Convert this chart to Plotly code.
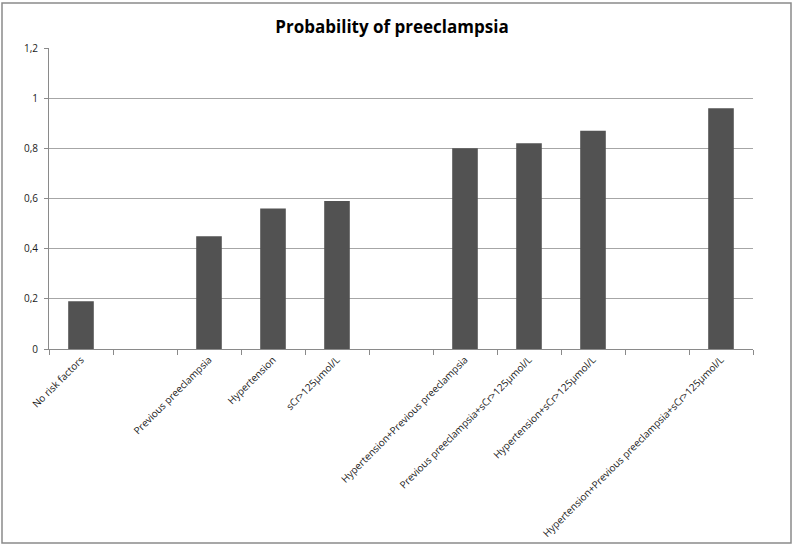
import plotly.graph_objects as go

categories = ["No risk factors", " ", "Previous preeclampsia", "Hypertension", "sCr>125µmol/L", "  ",
              "Hypertension+Previous preeclampsia", "Previous preeclampsia+sCr>125µmol/L",
              "Hypertension+sCr>125µmol/L", "   ", "Hypertension+Previous preeclampsia+sCr>125µmol/L"]
values = [0.19, None, 0.45, 0.56, 0.59, None, 0.80, 0.82, 0.87, None, 0.96]
y_ticks = [0, 0.2, 0.4, 0.6, 0.8, 1, 1.2]
y_ticklabels = ["0", "0,2", "0,4", "0,6", "0,8", "1", "1,2"]

W, H = 794, 546
ml, mr, mt, mb = 49, 41, 48, 197
pw, ph = W - ml - mr, H - mt - mb

def px_x(p):
    return (p - ml) / pw

def px_y(p):
    return (H - mb - p) / ph

fig = go.Figure(go.Bar(
    x=categories, y=values,
    marker=dict(color="#525252", line=dict(width=0)),
))

fig.update_layout(
    width=W, height=H,
    margin=dict(l=ml, r=mr, t=mt, b=mb, autoexpand=False),
    plot_bgcolor="white", paper_bgcolor="white",
    bargap=0.6,
    showlegend=False,
    title=dict(text="<b>Probability of preeclampsia</b>", x=392 / W, xref="container", xanchor="center",
               y=1 - 27 / H, yanchor="middle",
               font=dict(family="Open Sans", size=17, color="black")),
    font=dict(family="Open Sans", size=10, color="#1a1a1a"),
    shapes=[dict(type="rect", xref="paper", yref="paper",
                 x0=px_x(2), x1=px_x(791), y0=px_y(543), y1=px_y(3),
                 line=dict(color="#8a8a8a", width=1.5), layer="below")],
)
fig.update_xaxes(
    type="category", tickangle=-45, tickson="boundaries", automargin=False,
    showline=True, linecolor="#8a8a8a", linewidth=1,
    ticks="outside", ticklen=5, tickcolor="#8a8a8a",
    tickfont=dict(family="Open Sans", size=10, color="#1a1a1a"),
    showgrid=False,
)
fig.update_yaxes(
    range=[0, 1.2], tickvals=y_ticks, ticktext=y_ticklabels, automargin=False,
    showline=True, linecolor="#8a8a8a", linewidth=1,
    ticks="outside", ticklen=4, tickcolor="#8a8a8a", ticklabelstandoff=4,
    gridcolor="#a6a6a6", gridwidth=1, zeroline=False,
    tickfont=dict(family="Open Sans", size=10, color="#1a1a1a"),
)

fig.write_html("out.html", config={"displayModeBar": False},
               post_script="document.body.style.margin='0';document.body.style.overflow='hidden';")
